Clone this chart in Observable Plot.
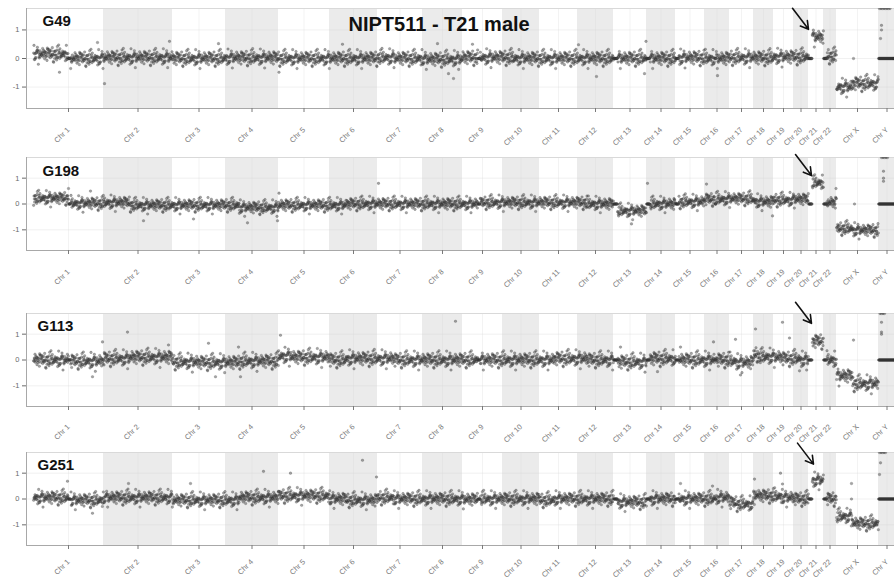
<!DOCTYPE html>
<html><head><meta charset="utf-8">
<script src="https://cdn.jsdelivr.net/npm/d3@7"></script>
<script src="https://cdn.jsdelivr.net/npm/@observablehq/plot@0.6"></script>
<style>
body{margin:0;background:#fff;}
#chart{width:894px;height:583px;overflow:hidden;position:relative;}
#chart svg{display:block;overflow:visible;}
</style></head><body><div id="chart"></div>
<script>
// ---------- data ----------
const title = "NIPT511 - T21 male";
const samples = ["G49", "G198", "G113", "G251"];
const chromosomes = ["Chr 1","Chr 2","Chr 3","Chr 4","Chr 5","Chr 6","Chr 7","Chr 8","Chr 9","Chr 10","Chr 11","Chr 12",
  "Chr 13","Chr 14","Chr 15","Chr 16","Chr 17","Chr 18","Chr 19","Chr 20","Chr 21","Chr 22","Chr X","Chr Y"];
// relative chromosome lengths (genome-position units along x)
const chrLengths = [70,69,53,53,51,48,45,40,40,37,38,36,33,29,29,25,24,20,20,15,15,13,42,17];
// bins without usable reads (reported as 0) as fraction of chromosome; from === to marks only the p/q split
const zeroFrom = [0.50,0.38,0.46,0.26,0.26,0.35,0.37,0.30,0.38,0.29,0.39,0.27,0,0,0,0.42,0.28,0.21,0.44,0.44,0,0,0.38,0];
const zeroTo   = [0.53,0.38,0.46,0.26,0.26,0.35,0.37,0.30,0.44,0.29,0.39,0.27,0.12,0.12,0.12,0.47,0.28,0.21,0.44,0.44,0.25,0.25,0.38,1];
// segment levels (log2 ratio) for p-arm / q-arm, per sample
const levelP_G49  = [0.15,0.03,0.00,0.02,0.00,0.00,0.03,-0.03,0.03,0.03,0.00,0.00, 0.00,0.00,0.02,0.00,0.03,0.02,0.05,0.05,0.75,0.08,-1.00,0];
const levelQ_G49  = [0.00,0.03,0.00,0.02,0.00,0.00,0.00,-0.03,0.03,0.00,0.00,0.00, 0.00,0.00,0.02,0.00,0.03,0.02,0.05,0.05,0.75,0.08,-0.88,0];
const levelP_G198 = [0.22,0.05,-0.05,-0.05,-0.05,-0.05,0.00,0.00,0.00,0.05,0.05,0.05, -0.10,0.00,0.08,0.18,0.20,0.10,0.15,0.18,0.68,0.05,-0.95,0];
const levelQ_G198 = [0.02,-0.05,-0.05,-0.14,-0.05,0.00,0.00,0.00,0.05,0.05,0.05,0.00, -0.27,0.00,0.08,0.18,0.20,0.08,0.15,0.18,0.82,0.05,-1.02,0];
const levelP_G113 = [0.00,0.05,-0.08,-0.10,0.15,0.00,0.05,0.00,0.00,0.00,0.00,0.05, -0.10,0.00,0.00,0.00,-0.05,0.22,0.10,0.05,0.72,0.05,-0.62,0];
const levelQ_G113 = [-0.05,0.10,-0.10,-0.05,0.10,0.05,0.00,0.00,0.00,0.00,0.05,0.00, -0.08,0.05,0.00,0.00,-0.10,0.12,0.05,0.00,0.72,0.00,-0.92,0];
const levelP_G251 = [0.05,0.05,-0.05,-0.05,0.12,0.00,0.05,0.00,-0.02,0.00,-0.05,0.00, -0.15,0.00,-0.05,0.00,-0.15,0.15,0.10,0.00,0.72,0.00,-0.68,0];
const levelQ_G251 = [-0.05,0.05,-0.05,0.05,0.12,-0.05,0.00,0.00,0.00,0.00,0.00,0.00, -0.12,0.00,0.00,0.05,-0.20,0.12,0.05,0.00,0.72,0.00,-0.95,0];
const noiseSd = [0.135, 0.13, 0.15, 0.14];
// standardized bin-to-bin scatter
const residuals = [0.3,-0.8,1.2,-0.1,0.6,-1.5,0.2,0.9,-0.4,-0.2,1.6,-0.7,0.1,-1.1,0.5,0.8,-0.3,-2.1,0.4,1.0,
  -0.6,0.0,0.7,-0.9,1.4,-0.5,0.2,-1.3,0.9,-0.1,0.3,2.3,-0.8,0.6,-0.2,-1.7,1.1,0.4,-0.6,0.1,
  -0.3,1.3,-1.0,0.5,0.8,-0.4,-2.6,0.2,0.7,-0.1,1.8,-0.7,0.0,-1.2,0.6,0.3,-0.5,1.0,-0.9,0.4,
  -0.2,1.5,-1.4,0.1,0.9,-0.3,-0.8,2.0,-0.6,0.2,0.5,-1.0,1.2,-0.1,-0.4,0.7,-1.6,0.3,0.8,-0.2,
  -0.7,1.1,0.0,-1.9,0.6,0.4,-0.5,1.7,-0.3,0.2,-1.1,0.9,-0.6,0.1,2.4,-0.9,0.5];
// isolated bins: [chromosome, position within chromosome, value]
const outliers_G49 = [["Chr 1",64,0.56],["Chr 2",1,-0.88],["Chr 2",66,0.6],["Chr 1",26,-0.48],["Chr 3",46,0.52],
  ["Chr 5",0.5,-0.48],["Chr 8",31,-0.7],["Chr 8",26,-0.53],["Chr 13",32.5,0.6],["Chr 13",31,-0.53],["Chr 12",19,-0.63],
  ["Chr 16",13,-0.6],["Chr 12",1,0.48],["Chr 6",13,0.5],["Chr 8",15,0.52],["Chr 9",10,0.5],["Chr X",17,0],
  ["Chr Y",1,1.75],["Chr Y",2.5,1.75],["Chr Y",4,1.75],["Chr Y",5.5,1.75],["Chr Y",7,1.75],["Chr Y",8.5,1.75],["Chr Y",10,1.75],["Chr Y",11.5,1.75],
  ["Chr Y",3,1.16],["Chr Y",3,1.0],["Chr Y",2,0.7]];
const outliers_G198 = [["Chr 1",35,0.6],["Chr 1",57,0.5],["Chr 4",22,-0.73],["Chr 4",52,-0.65],["Chr 5",0.5,0.42],
  ["Chr 2",40,-0.65],["Chr 3",21,-0.58],["Chr 14",1,0.8],["Chr 16",2,0.77],["Chr 13",18,-0.77],["Chr 18",19,-0.46],
  ["Chr X",18,0],["Chr 22",12.5,0.6],["Chr 7",1,0.8],
  ["Chr Y",3,1.8],["Chr Y",4.5,1.8],["Chr Y",6,1.8],["Chr Y",7.5,1.8],["Chr Y",9,1.8],
  ["Chr Y",5,1.27],["Chr Y",5,1.0],["Chr Y",5,0.88]];
const outliers_G113 = [["Chr 2",24,1.08],["Chr 1",69,0.7],["Chr 1",59,-0.65],["Chr 3",36,0.65],["Chr 3",43,-0.65],
  ["Chr 2",65,0.58],["Chr 5",2,0.96],["Chr 4",15,-0.65],["Chr 4",13,0.5],["Chr 8",33,1.5],["Chr 19",9,1.46],
  ["Chr X",17,0.77],["Chr 18",2,1.2],["Chr 17",6,0.8],["Chr 16",9,0.7],["Chr 19",16,0.85],["Chr 15",5,0.5],
  ["Chr 13",7,0.5],["Chr 14",11,-0.45],["Chr 17",11,-0.58],["Chr 20",6,-0.42],
  ["Chr Y",1.5,1.8],["Chr Y",3,1.8],["Chr Y",4.5,1.8],["Chr Y",6,1.8],["Chr Y",3,1.46],["Chr Y",3,1.08],["Chr Y",3,1.0]];
const outliers_G251 = [["Chr 1",34,0.69],["Chr 2",25,0.6],["Chr 1",59,-0.55],["Chr 3",18,0.6],["Chr 5",12,1.0],
  ["Chr 15",5,0.6],["Chr 16",8,0.5],["Chr 18",1,0.77],["Chr 19",7,1.0],["Chr 19",9,0.58],["Chr X",15,0.6],["Chr X",15,0],
  ["Chr 4",38,1.07],["Chr 6",33,1.5],["Chr 6",47,0.85],
  ["Chr Y",1,1.8],["Chr Y",2.5,1.8],["Chr Y",4,1.8],["Chr Y",5.5,1.8],["Chr Y",7,1.8],["Chr Y",2,1.4],["Chr Y",1,0.95]];
// value at which the T21 arrow points
const arrowTip = [1.02, 1.1, 1.42, 1.35];

// ---------- build ----------
const levelP = [levelP_G49, levelP_G198, levelP_G113, levelP_G251];
const levelQ = [levelQ_G49, levelQ_G198, levelQ_G113, levelQ_G251];
const outliers = [outliers_G49, outliers_G198, outliers_G113, outliers_G251];
const starts = []; { let a = 0; for (const n of chrLengths) { starts.push(a); a += n; } }
const genomeEnd = starts[starts.length - 1] + chrLengths[chrLengths.length - 1];
const centers = starts.map((s, i) => s + chrLengths[i] / 2);
const labelAt = new Map(centers.map((c, i) => [c, chromosomes[i]]));
const bands = chromosomes.map((c, i) => ({x1: starts[i], x2: i === chromosomes.length - 1 ? genomeEnd + 10 : starts[i] + chrLengths[i]}))
  .filter((d, i) => i % 2 === 1);

const layout = [
  {h: 150, mt: 8,  mb: 42, ymax: 1.75, ldx: 16, ldy: 7, pad: 16},
  {h: 150, mt: 7,  mb: 50, ymax: 1.8,  ldx: 16, ldy: 8, pad: 16},
  {h: 145, mt: 13, mb: 39, ymax: 1.8,  ldx: 11, ldy: 7, pad: 15},
  {h: 138, mt: 7,  mb: 38, ymax: 1.8,  ldx: 11, ldy: 7, pad: 11}
];
const perUnit = 3; // bins per x unit

function points(si, ymax) {
  const pts = []; let k = 0;
  chromosomes.forEach((c, ci) => {
    const n = chrLengths[ci] * perUnit;
    for (let j = 0; j < n; j++) {
      const f = (j + 0.5) / n;
      let y;
      if (f >= zeroFrom[ci] && f < zeroTo[ci]) y = 0;
      else {
        const lvl = f < zeroFrom[ci] ? levelP[si][ci] : levelQ[si][ci];
        y = lvl + noiseSd[si] * residuals[(k * 31 + si * 17) % residuals.length];
      }
      pts.push({x: starts[ci] + (j + 0.5) / perUnit, y: Math.max(-ymax, Math.min(ymax, y))});
      k++;
    }
  });
  for (const [c, off, v] of outliers[si]) pts.push({x: starts[chromosomes.indexOf(c)] + off, y: v});
  return pts;
}

const root = document.getElementById("chart");
const font = "'Liberation Sans', Arial, Helvetica, sans-serif";
samples.forEach((s, si) => {
  const L = layout[si];
  const pxPerUnit = (L.h - L.mt - L.mb) / (2 * L.ymax);
  const i21 = chromosomes.indexOf("Chr 21");
  const tipX = starts[i21] + [0, 3, 3, 5][si];
  const arrow = [{x1: tipX - 16, y1: arrowTip[si] + 21 / pxPerUnit, x2: tipX, y2: arrowTip[si]}];
  const marks = [
    Plot.rect(bands, {x1: "x1", x2: "x2", fill: "#ebebeb", clip: true}),
    Plot.gridY([-1, 0, 1], {stroke: "#cfcfcf", strokeOpacity: 0.5, strokeWidth: 0.6}),
    Plot.gridX(centers, {stroke: "#d8d8d8", strokeOpacity: 0.5, strokeWidth: 0.6}),
    Plot.frame({stroke: "#d9d9d9"}),
    Plot.dot(points(si, L.ymax), {x: "x", y: "y", r: 1.3, fill: "#4a4a4a", fillOpacity: 0.5,
      stroke: "#1a1a1a", strokeOpacity: 0.4, strokeWidth: 0.4, clip: true}),
    Plot.ruleY([-L.ymax], {stroke: "#a8a8a8", strokeWidth: 1}),
    Plot.ruleX([-7], {stroke: "#a8a8a8", strokeWidth: 1}),
    Plot.axisY([-1, 0, 1], {tickSize: 4, tickPadding: 3, fontSize: 7.5, color: "#6a6a6a", label: null,
      tickFormat: d => String(d)}),
    Plot.axisX(centers, {tickSize: 4, tickPadding: L.pad, tickRotate: -45, fontSize: 7.5, color: "#7a7a7a", label: null,
      tickFormat: d => labelAt.get(d)}),
    Plot.text([s], {frameAnchor: "top-left", dx: L.ldx, dy: L.ldy, textAnchor: "start", lineAnchor: "top",
      fontSize: 15, fontWeight: "bold", fill: "#111"}),
    Plot.arrow(arrow, {x1: "x1", y1: "y1", x2: "x2", y2: "y2", stroke: "#111", strokeWidth: 1.6, headLength: 9})
  ];
  if (si === 0) marks.push(Plot.text([title], {frameAnchor: "top-left", dx: 322, dy: 8, textAnchor: "start",
    lineAnchor: "top", fontSize: 20, fontWeight: "bold", fill: "#111"}));
  const svg = Plot.plot({
    width: 894, height: L.h,
    marginLeft: 26, marginRight: 0, marginTop: L.mt, marginBottom: L.mb,
    x: {domain: [-7, 861]},
    y: {domain: [-L.ymax, L.ymax]},
    style: {fontFamily: font, background: "transparent", overflow: "visible"},
    marks
  });
  root.appendChild(svg);
});
</script></body></html>
